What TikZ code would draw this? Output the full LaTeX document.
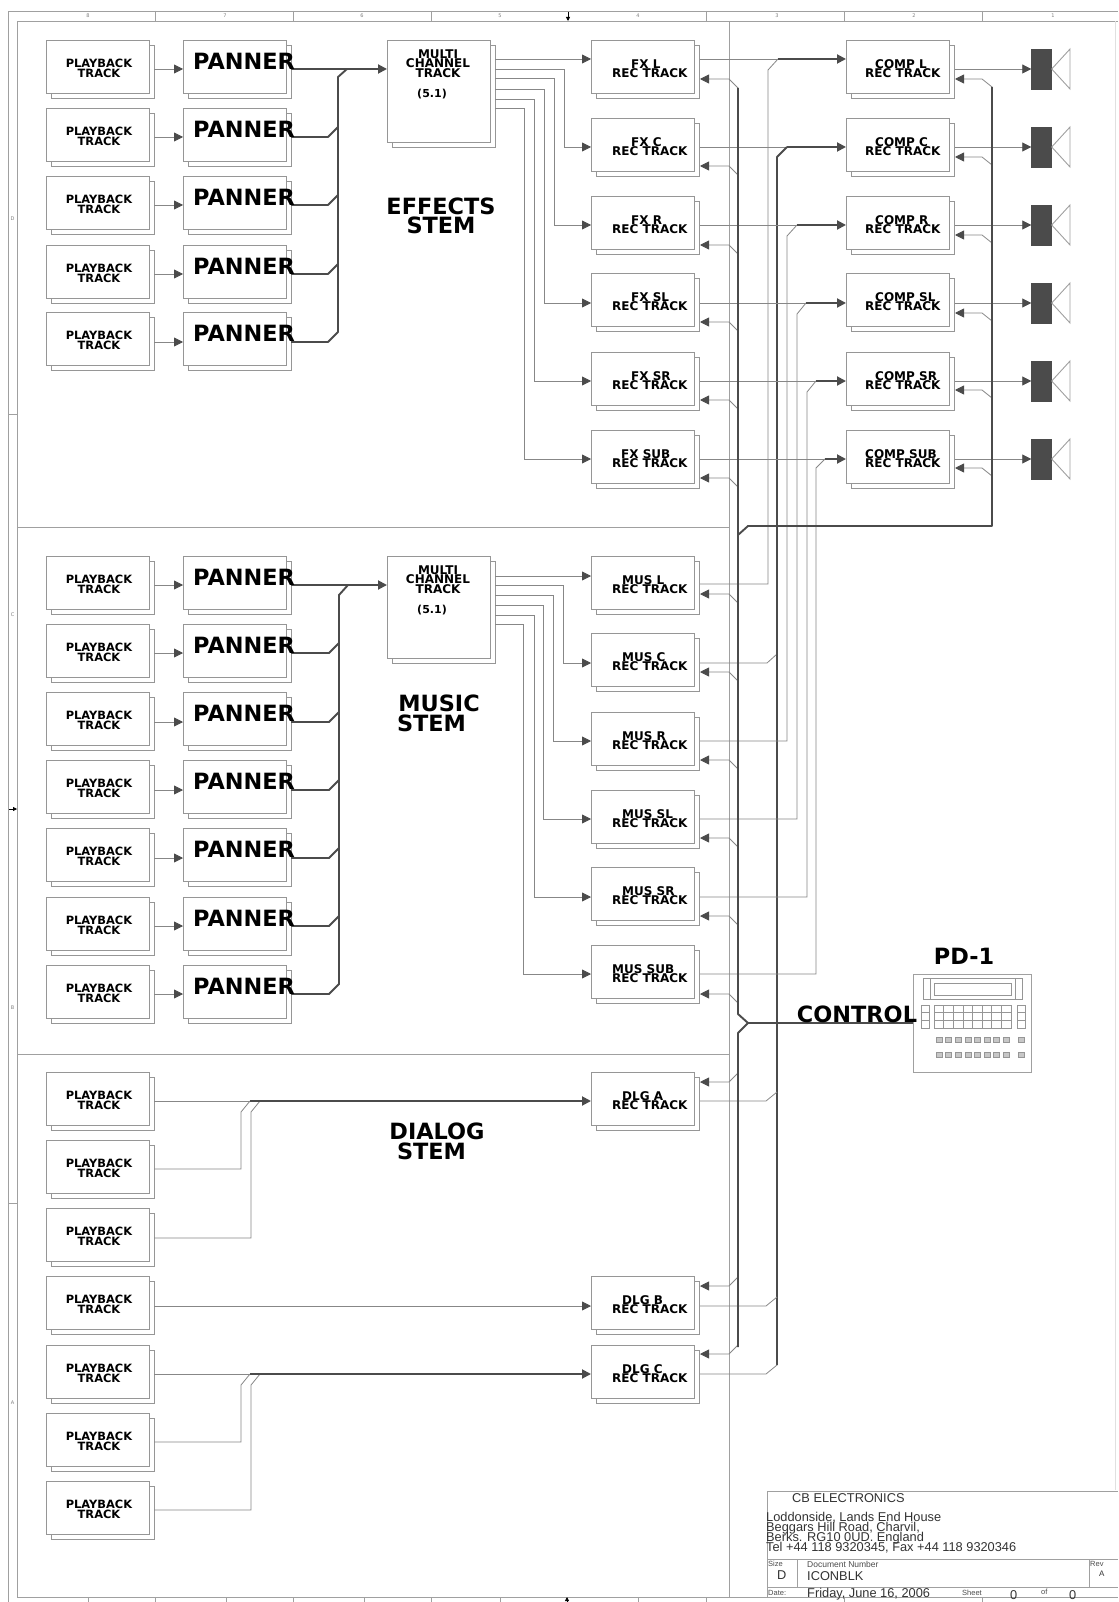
\documentclass[tikz,border=0pt]{standalone}
\usepackage{fontspec}
\setmainfont{DejaVu Sans}
\newfontfamily\titlefont{Liberation Sans}
\usepackage{xcolor}
\usetikzlibrary{arrows.meta,shadows}
\definecolor{linegray}{RGB}{135,135,135}
\definecolor{boxgray}{RGB}{150,150,150}
\definecolor{busgray}{RGB}{75,75,75}
\definecolor{framegray}{RGB}{160,160,160}
\newcommand{\tightlines}{\lineskiplimit=-20pt\relax}
\tikzset{
  trackbox/.style={draw=boxgray, fill=white, line width=0.9pt, anchor=north west, inner sep=0pt,
    minimum width=103pt, minimum height=53pt,
    copy shadow={shadow xshift=5pt, shadow yshift=-5pt, draw=boxgray, fill=white, opacity=1}},
  multibox/.style={trackbox, minimum height=102pt},
  sig/.style={draw=linegray, line width=0.8pt},
  sigtip/.style={sig, -{Triangle[length=9pt, width=9pt, color=busgray]}},
  heavy/.style={draw=busgray, line width=1.9pt, line join=round},
  heavytip/.style={heavy, -{Triangle[length=9pt, width=9pt, color=busgray]}},
  tracktext/.style={inner sep=0pt, font=\bfseries\fontsize{11.4}{9.5}\selectfont, align=center},
  rectext/.style={inner sep=0pt, anchor=west, font=\bfseries\fontsize{12}{9.5}\selectfont, align=left},
  pantext/.style={inner sep=0pt, anchor=west, font=\bfseries\fontsize{22.4}{24}\selectfont},
  stemtext/.style={inner sep=0pt, font=\bfseries\fontsize{22.4}{19.5}\selectfont, align=center},
  speaker/.style={draw=busgray, fill=busgray, inner sep=0pt, minimum width=20pt, minimum height=40pt},
  framenum/.style={inner sep=0pt, text=gray, font=\fontsize{5}{6}\selectfont},
  titletext/.style={inner sep=0pt, anchor=west, text=black!80, font=\titlefont\fontsize{12.8}{10}\selectfont\tightlines, align=left},
  titlesmall/.style={inner sep=0pt, anchor=west, text=black!70, font=\titlefont\fontsize{7.5}{8}\selectfont},
}
\begin{document}
\begin{tikzpicture}[x=1pt, y=-1pt]
  \useasboundingbox (0,0) rectangle (1118,1602);
  \fill[white] (0,0) rectangle (1118,1602);

  % Sheet frame
  \draw[framegray, line width=0.9pt] (8,1602) -- (8,11) -- (1118,11);
  \draw[framegray, line width=0.9pt] (17,1597) -- (17,21) -- (1118,21);
  \draw[framegray, line width=0.9pt] (17,1597) -- (1118,1597);
  \draw[black!12, line width=0.6pt] (1115,21) -- (1115,1490);
  \foreach \x in {155,293,431,706,844,982} \draw[framegray, line width=0.7pt] (\x,11) -- (\x,21);
  \foreach \x in {88,155,226,293,364,431,500,638,706,844,982} \draw[framegray, line width=0.7pt] (\x,1597) -- (\x,1602);
  \foreach \y in {414,1203} \draw[framegray, line width=0.7pt] (8,\y) -- (17,\y);
  \foreach \n/\x/\t in {n8/88/8,n7/225/7,n6/362/6,n5/500/5,n4/638/4,n3/777/3,n2/914/2,n1/1053/1}
    \node[framenum] (\n) at (\x,16) {\t};
  \foreach \n/\y/\t in {ld/219/D,lc/615/C,lb/1008/B,la/1403/A}
    \node[framenum] (\n) at (12.5,\y) {\t};
  \draw[black, line width=0.8pt, -{Triangle[length=4pt, width=4pt]}] (568,12) -- (568,21);
  \draw[black, line width=0.8pt, -{Triangle[length=4pt, width=4pt]}] (567,1602) -- (567,1597);
  \draw[black, line width=0.8pt, -{Triangle[length=4pt, width=4pt]}] (9,809) -- (17,809);

  % Stem dividers
  \draw[framegray, line width=0.7pt] (729,21) -- (729,1597);
  \draw[framegray, line width=0.7pt] (17,527) -- (729,527);
  \draw[framegray, line width=0.7pt] (17,1054) -- (729,1054);

  % Effects stem, playback and panners
  \foreach \row/\t/\yo in {ea/40/69,eb/108/137,ec/176/205,ed/245/274,ee/312/342} {
    \node[trackbox] (\row-play) at (46,\t) {};
    \node[trackbox] (\row-pan) at (183,\t) {};
    \coordinate (\row-playout) at (154,\yo);
    \coordinate (\row-panin) at (183,\yo);
    \coordinate (\row-panout) at (291,\yo);
    \draw[sigtip] (\row-playout) -- (\row-panin);
  }
  \node[multibox] (mfx) at (387,40) {};
  \foreach \row/\yo in {eb/137,ec/205,ed/274}
    \draw[heavy] (\row-panout) -- (328,\yo) -- (338,\yo-10);
  \draw[heavy] (ee-panout) -- (328,342) -- (338,332) -- (338,77) -- (347,69);
  \draw[heavytip] (ea-panout) -- (mfx.west |- ea-panout);

  % Music stem, playback and panners
  \foreach \row/\t/\yo in {ma/556/585,mb/624/653,mc/692/722,md/760/790,me/828/858,mf/897/926,mg/965/994} {
    \node[trackbox] (\row-play) at (46,\t) {};
    \node[trackbox] (\row-pan) at (183,\t) {};
    \coordinate (\row-playout) at (154,\yo);
    \coordinate (\row-panin) at (183,\yo);
    \coordinate (\row-panout) at (291,\yo);
    \draw[sigtip] (\row-playout) -- (\row-panin);
  }
  \node[multibox] (mmus) at (387,556) {};
  \foreach \row/\yo in {mb/653,mc/722,md/790,me/858,mf/926}
    \draw[heavy] (\row-panout) -- (329,\yo) -- (339,\yo-10);
  \draw[heavy] (mg-panout) -- (329,994) -- (339,984) -- (339,595) -- (348,585);
  \draw[heavytip] (ma-panout) -- (mmus.west |- ma-panout);

  % Dialog stem, playback only
  \foreach \row/\t/\yo in {da/1072/1101,db/1140/1169,dc/1208/1238,dd/1276/1306,de/1345/1374,df/1413/1442,dg/1481/1510} {
    \node[trackbox] (\row-play) at (46,\t) {};
    \coordinate (\row-playout) at (154,\yo);
  }

  % Record tracks
  \foreach \row/\t/\yin/\yout/\yfb/\dyb/\ind/\lab in {
      fxl/40/59/59/79/9/19/FX L, fxc/118/147/147/166/9/19/FX C, fxr/196/225/225/245/9/19/FX R,
      fxsl/273/303/303/322/9/19/FX SL, fxsr/352/381/381/400/9/19/FX SR, fxsub/430/459/459/478/9/9/FX SUB,
      musl/556/576/584/594/9/10/MUS L, musc/633/663/663/672/9/10/MUS C, musr/712/741/741/760/9/10/MUS R,
      mussl/790/819/819/838/9/10/MUS SL, mussr/867/897/897/916/9/10/MUS SR, mussub/945/974/974/994/9/0/MUS SUB,
      dlga/1072/1101/1101/1082/-9/10/DLG A, dlgb/1276/1306/1306/1286/-9/10/DLG B, dlgc/1345/1374/1374/1354/-9/10/DLG C} {
    \node[trackbox] (\row) at (591,\t) {};
    \coordinate (\row-in) at (591,\yin);
    \coordinate (\row-out) at (700,\yout);
    \coordinate (\row-fb) at (700,\yfb);
    \draw[sigtip] (738,\yfb+\dyb) -- (729,\yfb) -- (\row-fb);
    \node[rectext] (\row-lab) at (612,\t+28.5) {\hspace*{\ind pt}\lab\\REC TRACK};
  }

  % Multi channel track outputs
  \draw[sigtip] (495,59) -- (fxl-in);
  \draw[sigtip] (495,69) -- (564,69) |- (fxc-in);
  \draw[sigtip] (495,78) -- (554,78) |- (fxr-in);
  \draw[sigtip] (495,89) -- (544,89) |- (fxsl-in);
  \draw[sigtip] (495,99) -- (534,99) |- (fxsr-in);
  \draw[sigtip] (495,108) -- (524,108) |- (fxsub-in);
  \draw[sigtip] (495,576) -- (musl-in);
  \draw[sigtip] (495,585) -- (563,585) |- (musc-in);
  \draw[sigtip] (495,595) -- (553,595) |- (musr-in);
  \draw[sigtip] (495,605) -- (543,605) |- (mussl-in);
  \draw[sigtip] (495,615) -- (534,615) |- (mussr-in);
  \draw[sigtip] (495,624) -- (523,624) |- (mussub-in);

  % Dialog routing
  \draw[sig] (da-playout) -- (250,1101);
  \draw[sig] (db-playout) -- (241,1169) -- (241,1112) -- (250,1101);
  \draw[sig] (dc-playout) -- (251,1238) -- (251,1112) -- (260,1101);
  \draw[heavytip] (250,1101) -- (dlga-in);
  \draw[sigtip] (dd-playout) -- (dlgb-in);
  \draw[sig] (de-playout) -- (250,1374);
  \draw[sig] (df-playout) -- (241,1442) -- (241,1385) -- (250,1374);
  \draw[sig] (dg-playout) -- (251,1510) -- (251,1385) -- (260,1374);
  \draw[heavytip] (250,1374) -- (dlgc-in);

  % Compressor tracks and speakers
  \foreach \row/\t/\yin/\yout/\yfb/\ind/\lab/\spk in {
      compl/40/59/69/79/10/COMP L/sa, compc/118/147/147/157/10/COMP C/sb, compr/196/225/225/235/10/COMP R/sc,
      compsl/273/303/303/313/10/COMP SL/sd, compsr/352/381/381/390/10/COMP SR/se, compsub/430/459/459/468/0/COMP SUB/sf} {
    \node[trackbox] (\row) at (846,\t) {};
    \coordinate (\row-in) at (846,\yin);
    \coordinate (\row-out) at (955,\yout);
    \coordinate (\row-fb) at (955,\yfb);
    \draw[sigtip] (992,\yfb+8) -- (982,\yfb) -- (\row-fb);
    \node[speaker] (\spk) at (1041.5,\yout) {};
    \draw[framegray, line width=0.9pt] (\spk.east) -- (1070,\yout-20) -- (1070,\yout+20) -- cycle;
    \draw[sigtip] (\row-out) -- (\spk);
    \node[rectext] (\row-lab) at (865,\t+28.5) {\hspace*{\ind pt}\lab\\REC TRACK};
  }

  % Track outputs to compressors
  \draw[sig] (fxl-out) -- (778,59);
  \draw[sig] (musl-out) -- (768,584) -- (768,70) -- (778,59);
  \draw[heavytip] (778,59) -- (compl-in);
  \draw[sig] (fxc-out) -- (787,147);
  \draw[sig] (musc-out) -- (767,663) -- (777,654);
  \draw[heavy] (777,1365) -- (777,157) -- (787,147);
  \draw[heavytip] (787,147) -- (compc-in);
  \draw[sig] (fxr-out) -- (797,225);
  \draw[sig] (musr-out) -- (787,741) -- (787,236) -- (797,225);
  \draw[heavytip] (797,225) -- (compr-in);
  \draw[sig] (fxsl-out) -- (806,303);
  \draw[sig] (mussl-out) -- (797,819) -- (797,314) -- (806,303);
  \draw[heavytip] (806,303) -- (compsl-in);
  \draw[sig] (fxsr-out) -- (816,381);
  \draw[sig] (mussr-out) -- (807,897) -- (807,392) -- (816,381);
  \draw[heavytip] (816,381) -- (compsr-in);
  \draw[sig] (fxsub-out) -- (825,459);
  \draw[sig] (mussub-out) -- (816,974) -- (816,468) -- (825,459);
  \draw[heavytip] (825,459) -- (compsub-in);
  \draw[sig] (dlga-out) -- (766,1101) -- (777,1092);
  \draw[sig] (dlgb-out) -- (766,1306) -- (777,1297);
  \draw[sig] (dlgc-out) -- (766,1374) -- (777,1365);

  % Control bus
  \node[draw=framegray, line width=0.9pt, fill=white, anchor=north west, inner sep=0pt,
    minimum width=118pt, minimum height=98pt] (pd) at (913,974) {};
  \draw[heavy] (738,88) -- (738,1014) -- (748,1023) -- (738,1033) -- (738,1347);
  \draw[heavy] (748,1023) -- (pd.west |- 0,1023);
  \draw[heavy] (992,87) -- (992,526) -- (748,526) -- (738,535);

  % PD-1 front panel
  \draw[boxgray, line width=0.7pt] (923,978) rectangle (1022,999);
  \draw[boxgray, line width=0.7pt] (930,978) -- (930,999) (1015,978) -- (1015,999);
  \draw[boxgray, line width=0.7pt] (934,983) rectangle (1011,995);
  \foreach \r in {0,1,2} {
    \draw[boxgray, line width=0.7pt] (921,1005+\r*7.7) rectangle ++(8,7.7);
    \draw[boxgray, line width=0.7pt] (1017,1005+\r*7.7) rectangle ++(8,7.7);
    \foreach \c in {0,...,7}
      \draw[boxgray, line width=0.7pt] (934+\c*9.62,1005+\r*7.7) rectangle ++(9.62,7.7);
  }
  \foreach \y in {1037,1052} {
    \foreach \c in {0,...,7}
      \draw[boxgray, fill=black!22, line width=0.6pt] (936+\c*9.62,\y) rectangle ++(6,5.5);
    \draw[boxgray, fill=black!22, line width=0.6pt] (1018,\y) rectangle ++(6,5.5);
  }

  % Labels
  \foreach \row/\t in {ea/40,eb/108,ec/176,ed/245,ee/312,ma/556,mb/624,mc/692,md/760,me/828,mf/897,mg/965,
      da/1072,db/1140,dc/1208,dd/1276,de/1345,df/1413,dg/1481}
    \node[tracktext] (\row-playlab) at (99,\t+28.5) {PLAYBACK\\TRACK};
  \foreach \row/\t in {ea/40,eb/108,ec/176,ed/245,ee/312,ma/556,mb/624,mc/692,md/760,me/828,mf/897,mg/965}
    \node[pantext] (\row-panlab) at (193,\t+21) {PANNER};
  \foreach \row/\t in {mfx/40,mmus/556} {
    \node[rectext, anchor=center, align=center] (\row-lab) at (438,\t+23.5) {MULTI\\CHANNEL\\TRACK};
    \node[rectext, anchor=center, font=\bfseries\fontsize{11}{12}\selectfont] (\row-sub) at (432,\t+54) {(5.1)};
  }
  \node[stemtext] (fxstem) at (441,216) {EFFECTS\\STEM};
  \node[stemtext] (musstem) at (439,713.5) {MUSIC\\\hspace*{-15pt}STEM};
  \node[stemtext] (dlgstem) at (437,1141.5) {DIALOG\\\hspace*{-11pt}STEM};
  \node[pantext, anchor=center] (pdlab) at (964,956) {PD-1};
  \node[pantext, anchor=center] (ctrllab) at (857,1014) {CONTROL};

  % Title block
  \draw[framegray, line width=0.9pt] (1118,1491) -- (767,1491) -- (767,1597);
  \draw[framegray, line width=0.9pt] (767,1559) -- (1118,1559) (767,1587) -- (1118,1587);
  \draw[framegray, line width=0.9pt] (797,1559) -- (797,1587) (1089,1559) -- (1089,1587);
  \node[titletext] (company) at (792,1498) {CB ELECTRONICS};
  \node[titletext] (address) at (766,1533) {Loddonside, Lands End House\\Beggars Hill Road, Charvil,\\Berks. RG10 0UD.  England\\Tel +44 118 9320345, Fax +44 118 9320346};
  \node[titlesmall] (sizelab) at (768,1564) {Size};
  \node[titletext] (sizeval) at (777,1575) {D};
  \node[titlesmall, font=\titlefont\fontsize{8.5}{9}\selectfont] (doclab) at (807,1564) {Document Number};
  \node[titletext] (docval) at (807,1576) {ICONBLK};
  \node[titlesmall] (revlab) at (1090,1564) {Rev};
  \node[titletext, font=\titlefont\fontsize{8}{9}\selectfont] (revval) at (1099,1574) {A};
  \node[titlesmall] (datelab) at (768,1593) {Date:};
  \node[titletext] (dateval) at (807,1594) {Friday, June 16, 2006};
  \node[titlesmall] (sheetlab) at (962,1593) {Sheet};
  \node[titletext] (sheetval) at (1010,1595) {0};
  \node[titlesmall] (oflab) at (1041,1592) {of};
  \node[titletext] (sheetmax) at (1069,1595) {0};
\end{tikzpicture}
\end{document}
